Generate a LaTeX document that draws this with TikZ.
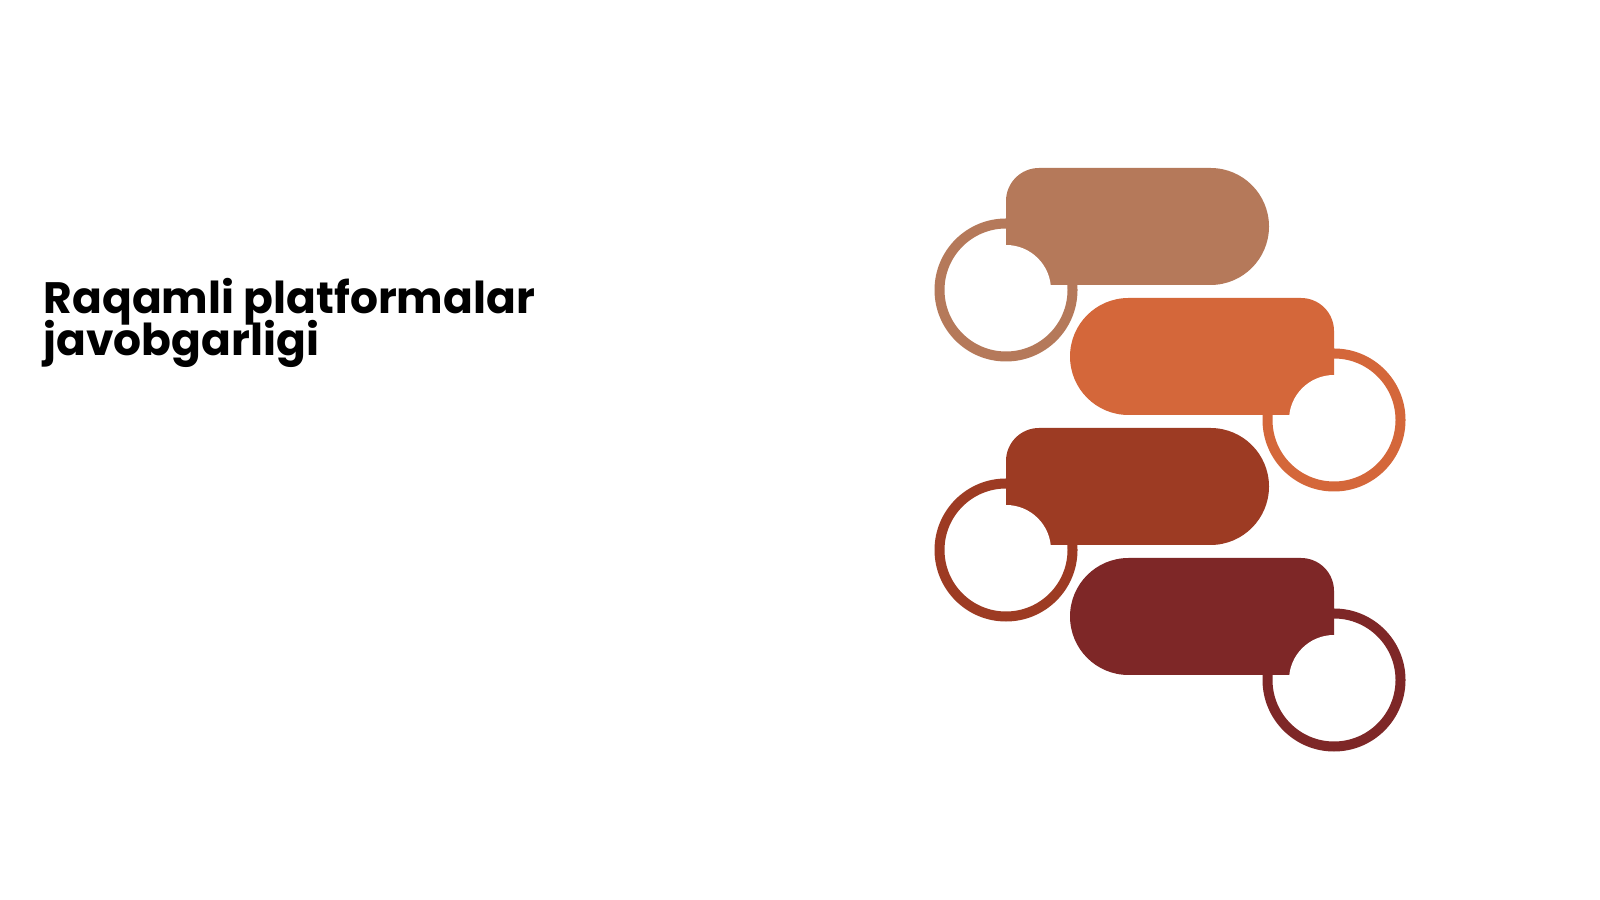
\documentclass[tikz,border=0pt]{standalone}
\usepackage{fontspec}
\usepackage{xcolor}
\usepackage{tikz}
\newfontfamily\titlefont{Poppins}
\newcommand\titleleading{\fontsize{12.5}{12.2}\selectfont\lineskiplimit=-100pt\relax}
\definecolor{clay}{HTML}{B5795A}
\definecolor{ember}{HTML}{D4673A}
\definecolor{rust}{HTML}{9D3B23}
\definecolor{wine}{HTML}{7E2727}
\tikzset{
  ring/.style={line width=0.1cm},
  notch/.style={fill=white},
  lab/.style={font=\titlefont\bfseries\titleleading, align=left, inner sep=0pt},
}

\begin{document}
\begin{tikzpicture}[x=0.01cm,y=0.01cm]
  \fill[white] (0,0) rectangle (1600,900);
  \useasboundingbox (0,0) rectangle (1600,900);
  % ring centres
  \coordinate (c1) at (1006,610);
  \coordinate (c2) at (1334,480);
  \coordinate (c3) at (1006,350);
  \coordinate (c4) at (1334,220);
  % first step
  \draw[ring, draw=clay] (c1) circle[radius=66.5];
  \fill[clay] (1006,615) -- (1006,699) arc[start angle=180, end angle=90, radius=33]
    -- (1210.5,732) arc[start angle=90, end angle=-90, radius=58.5] -- cycle;
  \fill[notch] (c1) circle[radius=45];
  % second step
  \draw[ring, draw=ember] (c2) circle[radius=66.5];
  \fill[ember] (1334,485) -- (1334,569) arc[start angle=0, end angle=90, radius=33]
    -- (1128.5,602) arc[start angle=90, end angle=270, radius=58.5] -- cycle;
  \fill[notch] (c2) circle[radius=45];
  % third step
  \draw[ring, draw=rust] (c3) circle[radius=66.5];
  \fill[rust] (1006,355) -- (1006,439) arc[start angle=180, end angle=90, radius=33]
    -- (1210.5,472) arc[start angle=90, end angle=-90, radius=58.5] -- cycle;
  \fill[notch] (c3) circle[radius=45];
  % fourth step
  \draw[ring, draw=wine] (c4) circle[radius=66.5];
  \fill[wine] (1334,225) -- (1334,309) arc[start angle=0, end angle=90, radius=33]
    -- (1128.5,342) arc[start angle=90, end angle=270, radius=58.5] -- cycle;
  \fill[notch] (c4) circle[radius=45];
  % title (base = last line)
  \node[lab, anchor=base west] (title) at (43,544) {Raqamli platformalar\\javobgarligi};
\end{tikzpicture}
\end{document}
